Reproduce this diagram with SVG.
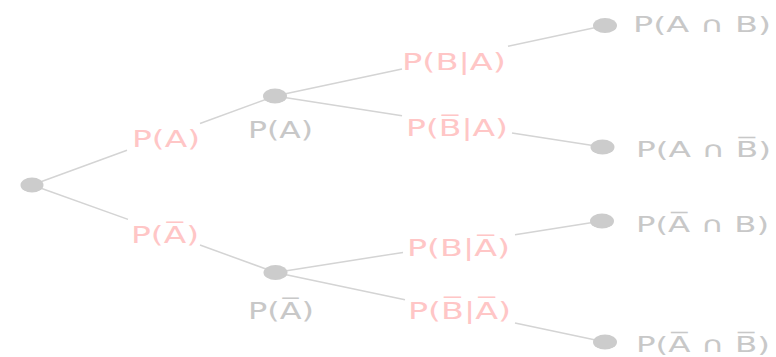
<svg xmlns="http://www.w3.org/2000/svg" width="776" height="357" viewBox="0 0 776 357">
<style>
.dot{fill:#cccccc}
.ln{stroke:#d4d4d4;stroke-width:1.5;fill:none}
text{font-family:"DejaVu Sans","Liberation Sans",sans-serif;font-size:23.5px}
.g{fill:#c8c8c8}
.p{fill:#ffc6c6}
.lf{font-size:22px}
</style>
<rect width="776" height="357" fill="#ffffff"/>
<g id="connectors">
  <line class="ln" x1="32" y1="185" x2="127" y2="150.2"/>
  <line class="ln" x1="200" y1="123.5" x2="275" y2="96"/>
  <line class="ln" x1="32" y1="185" x2="128" y2="219.4"/>
  <line class="ln" x1="200" y1="245" x2="275.5" y2="272.5"/>
  <line class="ln" x1="275" y1="96" x2="402" y2="68.9"/>
  <line class="ln" x1="508" y1="46.2" x2="605" y2="25.5"/>
  <line class="ln" x1="275" y1="96" x2="402" y2="115.8"/>
  <line class="ln" x1="512" y1="132.9" x2="602.5" y2="147"/>
  <line class="ln" x1="275.5" y1="272.5" x2="403" y2="252.4"/>
  <line class="ln" x1="515" y1="234.7" x2="602" y2="221"/>
  <line class="ln" x1="275.5" y1="272.5" x2="405" y2="299.8"/>
  <line class="ln" x1="515" y1="323" x2="605" y2="342"/>
  <text class="p" x="132" y="147" textLength="68" lengthAdjust="spacingAndGlyphs">P(A)</text>
  <text class="p" x="131" y="243" textLength="68" lengthAdjust="spacingAndGlyphs">P(A̅)</text>
  <text class="p" x="402" y="69.5" textLength="104" lengthAdjust="spacingAndGlyphs">P(B|A)</text>
  <text class="p" x="406" y="136" textLength="102" lengthAdjust="spacingAndGlyphs">P(B̅|A)</text>
  <text class="p" x="407" y="256" textLength="103" lengthAdjust="spacingAndGlyphs">P(B|A̅)</text>
  <text class="p" x="408" y="318.5" textLength="103" lengthAdjust="spacingAndGlyphs">P(B̅|A̅)</text>
</g>
<g id="root"><ellipse class="dot" cx="32" cy="185" rx="11.5" ry="7.5"/></g>
<g id="nodeA">
  <ellipse class="dot" cx="275" cy="96" rx="12" ry="7.5"/>
  <text class="g" x="248" y="138" textLength="65" lengthAdjust="spacingAndGlyphs">P(A)</text>
</g>
<g id="nodeAbar">
  <ellipse class="dot" cx="275.5" cy="272.5" rx="12" ry="7.5"/>
  <text class="g" x="248" y="319" textLength="66" lengthAdjust="spacingAndGlyphs">P(A̅)</text>
</g>
<g id="leafAB">
  <ellipse class="dot" cx="605" cy="25.5" rx="12" ry="7.5"/>
  <text class="g lf" x="633" y="32" textLength="138" lengthAdjust="spacingAndGlyphs">P(A ∩ B)</text>
</g>
<g id="leafABbar">
  <ellipse class="dot" cx="602.5" cy="147" rx="12" ry="7.5"/>
  <text class="g lf" x="636" y="157" textLength="135" lengthAdjust="spacingAndGlyphs">P(A ∩ B̅)</text>
</g>
<g id="leafAbarB">
  <ellipse class="dot" cx="602" cy="221" rx="12" ry="7.5"/>
  <text class="g lf" x="636" y="232" textLength="133" lengthAdjust="spacingAndGlyphs">P(A̅ ∩ B)</text>
</g>
<g id="leafAbarBbar">
  <ellipse class="dot" cx="605" cy="342" rx="12" ry="7.5"/>
  <text class="g lf" x="636" y="352" textLength="134" lengthAdjust="spacingAndGlyphs">P(A̅ ∩ B̅)</text>
</g>
</svg>
